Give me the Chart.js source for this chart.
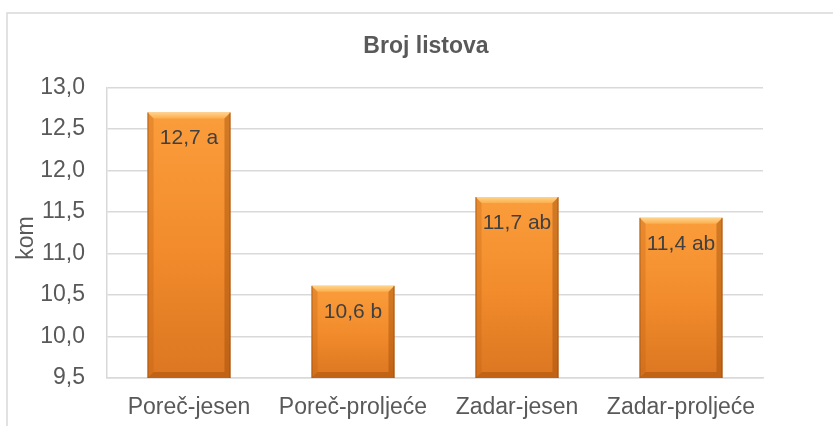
<!DOCTYPE html>
<html>
<head>
<meta charset="utf-8">
<title>Broj listova</title>
<script src="https://cdn.jsdelivr.net/npm/chart.js@4"></script>
<style>
  html, body { margin: 0; padding: 0; background: #fff; }
  #wrap { width: 833px; height: 426px; }
</style>
</head>
<body>
<div id="wrap"><canvas id="chart" width="833" height="426"></canvas></div>
<script>
// data
const categories = ['Poreč-jesen', 'Poreč-proljeće', 'Zadar-jesen', 'Zadar-proljeće'];
const values = [12.7, 10.61, 11.68, 11.43];
const letters = ['a', 'b', 'ab', 'ab'];
const yMin = 9.5;
const yMax = 13.0;
const yStep = 0.5;
const chartTitle = 'Broj listova';
const yTitle = 'kom';

const FONT = "'Liberation Sans', Arial, sans-serif";
const TEXT = '#595959';
const GRID = '#d9d9d9';

function fmt(v) {
  return v.toFixed(1).replace('.', ',');
}

// vertical gradient per bar, from its own top to the axis
function barFill(ctx) {
  const chart = ctx.chart;
  const y = chart.scales.y;
  if (!chart.chartArea || !y || ctx.dataIndex === undefined) return '#f58d2c';
  const top = y.getPixelForValue(values[ctx.dataIndex]);
  const bottom = y.getPixelForValue(yMin);
  const g = chart.ctx.createLinearGradient(0, top, 0, bottom);
  g.addColorStop(0, '#fb9d3c');
  g.addColorStop(0.5, '#f28c2c');
  g.addColorStop(1, '#dc7621');
  return g;
}

// outer frame, chart title and axis title
const framePlugin = {
  id: 'frame',
  beforeDraw(chart) {
    const c = chart.ctx;
    c.save();
    c.strokeStyle = GRID;
    c.lineWidth = 1.5;
    c.beginPath();
    c.moveTo(7, 426);
    c.lineTo(7, 13);
    c.lineTo(833, 13);
    c.stroke();

    c.fillStyle = TEXT;
    c.textAlign = 'center';
    c.textBaseline = 'middle';
    c.font = 'bold 23px ' + FONT;
    c.fillText(chartTitle, 426, 47);

    c.font = '23px ' + FONT;
    c.translate(27, 238);
    c.rotate(-Math.PI / 2);
    c.fillText(yTitle, 0, 0);
    c.restore();
  }
};

// bevelled edges and labels inside the bars
const bevelPlugin = {
  id: 'bevel',
  afterDatasetsDraw(chart) {
    const c = chart.ctx;
    const meta = chart.getDatasetMeta(0);
    const axisY = chart.scales.y.getPixelForValue(yMin);
    meta.data.forEach((bar, i) => {
      const l = bar.x - bar.width / 2;
      const r = bar.x + bar.width / 2;
      const t = bar.y;
      const b = axisY;
      const s = 6;
      c.save();

      // top bevel (light)
      let g = c.createLinearGradient(0, t, 0, t + s);
      g.addColorStop(0, '#ffd48a');
      g.addColorStop(1, '#fcae4e');
      c.fillStyle = g;
      c.beginPath();
      c.moveTo(l, t); c.lineTo(r, t); c.lineTo(r - s, t + s); c.lineTo(l + s, t + s);
      c.closePath(); c.fill();

      // left bevel
      c.fillStyle = 'rgba(190, 95, 15, 0.3)';
      c.beginPath();
      c.moveTo(l, t); c.lineTo(l + s, t + s); c.lineTo(l + s, b - s); c.lineTo(l, b);
      c.closePath(); c.fill();

      // right bevel
      c.fillStyle = 'rgba(150, 70, 5, 0.4)';
      c.beginPath();
      c.moveTo(r, t); c.lineTo(r - s, t + s); c.lineTo(r - s, b - s); c.lineTo(r, b);
      c.closePath(); c.fill();

      // bottom bevel
      c.fillStyle = 'rgba(160, 75, 5, 0.45)';
      c.beginPath();
      c.moveTo(l, b); c.lineTo(l + s, b - s); c.lineTo(r - s, b - s); c.lineTo(r, b);
      c.closePath(); c.fill();

      // thin dark edges
      c.strokeStyle = 'rgba(140, 65, 10, 0.55)';
      c.lineWidth = 1;
      c.beginPath();
      c.moveTo(l + 0.5, t); c.lineTo(l + 0.5, b);
      c.moveTo(r - 0.5, t); c.lineTo(r - 0.5, b);
      c.stroke();

      // value label
      c.fillStyle = '#404040';
      c.font = '21px ' + FONT;
      c.textAlign = 'center';
      c.textBaseline = 'middle';
      c.fillText(fmt(values[i]) + ' ' + letters[i], bar.x, t + 26);
      c.restore();
    });
  }
};

new Chart(document.getElementById('chart'), {
  type: 'bar',
  data: {
    labels: categories,
    datasets: [{
      data: values,
      backgroundColor: barFill,
      borderWidth: 0,
      categoryPercentage: 1,
      barPercentage: 0.506
    }]
  },
  options: {
    responsive: false,
    animation: false,
    layout: { padding: { left: 0, right: 70, top: 87.5, bottom: 0 } },
    plugins: {
      legend: { display: false },
      tooltip: { enabled: false },
      title: { display: false }
    },
    scales: {
      x: {
        grid: { display: false, drawTicks: false },
        border: { display: true, color: GRID, width: 1.5 },
        ticks: { color: TEXT, font: { family: FONT, size: 23 }, padding: 16, maxRotation: 0 },
        afterFit(scale) { scale.height = 48; }
      },
      y: {
        min: yMin,
        max: yMax,
        ticks: {
          stepSize: yStep,
          color: TEXT,
          font: { family: FONT, size: 23 },
          padding: 22,
          callback: v => fmt(v)
        },
        grid: { color: GRID, lineWidth: 1.5, drawTicks: false },
        border: { display: true, color: GRID, width: 1.5 },
        afterFit(scale) { scale.width = 107; }
      }
    }
  },
  plugins: [framePlugin, bevelPlugin]
});
</script>
</body>
</html>
